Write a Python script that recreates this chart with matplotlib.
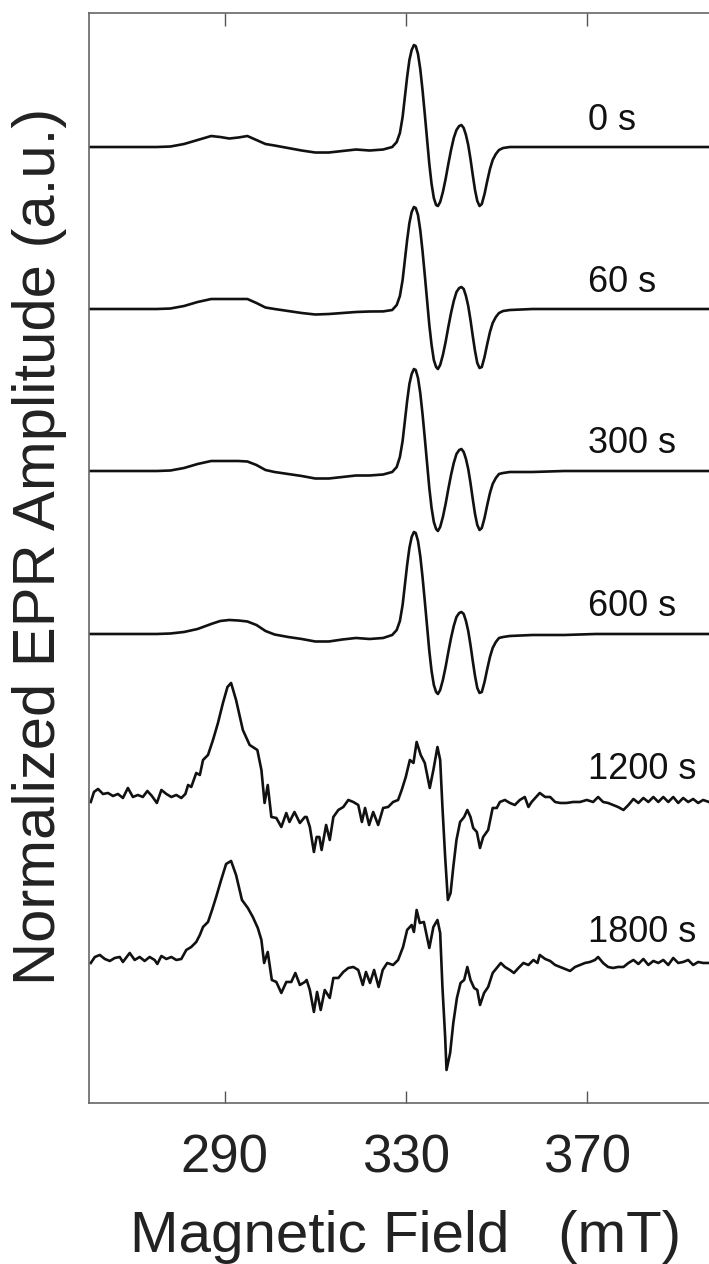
'''
Stacked EPR spectra recorded at different times
'''
import matplotlib
matplotlib.use('Agg')
import matplotlib.pyplot as plt

plt.rcParams['font.family'] = ['Liberation Sans', 'DejaVu Sans']

# labels of the spectra, top to bottom
labels = ['0 s', '60 s', '300 s', '600 s', '1200 s', '1800 s']

# magnetic field (mT) for the four smooth spectra
field_smooth = [260, 265, 270, 275, 278, 281, 284, 287, 289, 291, 293, 295, 297, 299, 301,
                304, 307, 310, 313, 316, 319, 322, 325, 327, 328,
                328.7, 329.3, 329.8, 330.3, 330.8, 331.3, 331.8, 332.2, 332.7, 333.2,
                333.7, 334.2, 334.7, 335.2, 335.7, 336.2, 336.7, 337.1, 337.6, 338.2,
                338.8, 339.4, 340.0, 340.6, 341.2, 341.8, 342.3, 342.8, 343.3, 343.8,
                344.3, 344.8, 345.3, 345.8, 346.3, 346.8, 347.4, 348.0, 348.6, 349.2,
                349.9, 350.6, 351.5,
                353, 358, 365, 372, 380, 388, 397]

amp_0 = [0, 0, 0, 0, 0.005, 0.03, 0.07, 0.11, 0.10, 0.085, 0.095, 0.11, 0.07, 0.03, 0.015,
         -0.01, -0.035, -0.055, -0.055, -0.04, -0.025, -0.035, -0.025, 0.0, 0.05,
         0.14, 0.30, 0.50, 0.70, 0.87, 0.97, 1.02, 1.01, 0.93, 0.78,
         0.57, 0.33, 0.08, -0.17, -0.37, -0.51, -0.58, -0.59, -0.55, -0.45,
         -0.32, -0.17, -0.03, 0.09, 0.17, 0.21, 0.22, 0.19, 0.12, 0.02,
         -0.12, -0.28, -0.43, -0.54, -0.59, -0.57, -0.47, -0.34, -0.22, -0.13,
         -0.07, -0.03, -0.01,
         0.0, 0.0, 0.0, 0.0, 0.0, 0.0, 0.0]

amp_60 = [0, 0, 0, 0, 0.005, 0.03, 0.07, 0.10, 0.10, 0.10, 0.10, 0.10, 0.06, 0.015, 0.0,
          -0.02, -0.04, -0.055, -0.05, -0.04, -0.03, -0.025, -0.024, -0.01, 0.04,
          0.13, 0.29, 0.49, 0.69, 0.86, 0.97, 1.02, 1.01, 0.94, 0.79,
          0.58, 0.34, 0.09, -0.16, -0.36, -0.51, -0.58, -0.60, -0.56, -0.46,
          -0.33, -0.18, -0.04, 0.08, 0.17, 0.21, 0.22, 0.20, 0.13, 0.03,
          -0.11, -0.27, -0.42, -0.54, -0.59, -0.58, -0.48, -0.35, -0.23, -0.14,
          -0.08, -0.04, -0.02,
          -0.01, 0.0, 0.0, 0.0, 0.0, 0.0, 0.0]

amp_300 = [0, 0, 0, 0, 0.005, 0.03, 0.07, 0.10, 0.10, 0.10, 0.10, 0.095, 0.06, 0.01, -0.01,
           -0.03, -0.05, -0.075, -0.075, -0.06, -0.045, -0.045, -0.035, -0.01, 0.04,
           0.14, 0.30, 0.50, 0.70, 0.87, 0.97, 1.02, 1.01, 0.93, 0.78,
           0.57, 0.33, 0.08, -0.17, -0.37, -0.51, -0.58, -0.60, -0.56, -0.46,
           -0.33, -0.18, -0.04, 0.08, 0.17, 0.21, 0.22, 0.19, 0.12, 0.02,
           -0.12, -0.28, -0.43, -0.54, -0.59, -0.57, -0.47, -0.34, -0.22, -0.13,
           -0.07, -0.03, -0.02,
           -0.01, -0.01, 0.0, 0.0, 0.0, 0.0, 0.0]

amp_600 = [0, 0, 0, 0, 0.005, 0.02, 0.05, 0.10, 0.13, 0.14, 0.135, 0.125, 0.09, 0.03, -0.005,
           -0.03, -0.05, -0.075, -0.075, -0.055, -0.04, -0.05, -0.04, -0.01, 0.04,
           0.13, 0.29, 0.49, 0.69, 0.86, 0.97, 1.02, 1.01, 0.93, 0.78,
           0.57, 0.33, 0.08, -0.17, -0.37, -0.51, -0.58, -0.60, -0.56, -0.46,
           -0.33, -0.18, -0.04, 0.08, 0.17, 0.21, 0.22, 0.20, 0.13, 0.03,
           -0.11, -0.27, -0.42, -0.54, -0.59, -0.58, -0.48, -0.35, -0.23, -0.14,
           -0.08, -0.04, -0.03,
           -0.02, -0.01, -0.01, 0.0, 0.0, 0.0, 0.0]

# noisy spectra, read point by point
field_1200 = [260.4, 261.1, 262.0, 263.1, 264.2, 265.3, 266.4, 267.5, 268.6, 269.7,
              270.8, 271.9, 272.9, 273.9, 275.0, 276.0, 277.1, 278.2, 279.3, 280.4,
              281.3, 281.9, 282.6, 283.7, 284.5, 285.2, 286.3, 287.4, 288.5, 289.6,
              290.6, 291.4, 292.5, 294.0, 295.5, 297.2, 298.1, 298.8, 299.5, 300.3,
              301.4, 302.5, 303.6, 304.3, 305.4, 306.6, 307.7,
              308.1, 308.8, 309.7, 310.3, 310.9, 311.4, 312.4, 313.2, 314.0, 315.1,
              316.2, 317.3, 318.4, 319.5, 320.3, 321.0, 321.9, 322.8, 323.9, 325.0,
              326.1, 327.2, 328.3, 329.1, 330.0, 330.9, 331.7, 332.4, 333.3, 334.2,
              335.3, 336.1, 337.0, 337.6, 338.1, 338.7, 339.3, 339.9, 340.5, 341.2,
              342.0, 342.9, 343.6, 344.3, 344.9, 345.7, 346.4, 347.1, 348.2, 349.2,
              350.1, 350.8,
              351.9, 353.0, 354.1, 355.2, 356.3, 357.1, 357.8, 358.8, 359.6, 360.8,
              361.9, 363.0, 364.1, 365.5, 367.0, 368.5, 370.0, 371.4, 372.5, 373.6,
              374.7, 375.8, 376.9, 378.1, 379.2, 380.3, 381.4, 382.5, 383.6, 384.7,
              385.8, 386.9, 388.0, 389.1, 390.2, 391.3, 392.4, 393.5, 394.6, 395.7,
              397.0]
amp_1200 = [-0.05, 0.05, 0.08, 0.03, 0.04, 0.01, 0.03, -0.01, 0.09, 0.00,
            0.02, 0.00, 0.06, 0.01, -0.06, 0.07, 0.03, 0.00, 0.02, -0.01,
            0.03, 0.12, 0.10, 0.24, 0.22, 0.37, 0.42, 0.57, 0.74, 0.94,
            1.10, 1.14, 0.97, 0.67, 0.52, 0.47, 0.27, -0.06, 0.12, -0.20,
            -0.21, -0.30, -0.16, -0.25, -0.15, -0.26, -0.20,
            -0.20, -0.30, -0.55, -0.40, -0.40, -0.53, -0.28, -0.43, -0.20, -0.13,
            -0.10, -0.03, -0.05, -0.08, -0.25, -0.11, -0.28, -0.15, -0.28, -0.11,
            -0.10, -0.05, -0.03, 0.07, 0.20, 0.37, 0.34, 0.55, 0.42, 0.34,
            0.09, 0.27, 0.50, 0.37, -0.10, -0.60, -1.03, -0.96, -0.70, -0.43,
            -0.25, -0.20, -0.13, -0.20, -0.31, -0.35, -0.51, -0.40, -0.33, -0.11,
            -0.11, -0.05,
            -0.03, -0.06, -0.08, -0.03, 0.00, -0.10, -0.05, 0.00, 0.04, 0.00,
            0.00, -0.05, -0.06, -0.06, -0.05, -0.05, -0.03, -0.05, 0.00, -0.05,
            -0.06, -0.08, -0.10, -0.13, -0.08, -0.02, -0.06, -0.01, -0.05, 0.00,
            -0.05, 0.00, -0.05, 0.00, -0.06, -0.01, -0.05, -0.02, -0.06, -0.03,
            -0.05]

field_1800 = [260.4, 261.3, 262.4, 263.5, 264.6, 265.7, 266.8, 267.5, 269.0, 270.1,
              271.2, 272.3, 273.4, 274.5, 275.1, 276.0, 277.1, 278.2, 279.3, 280.4,
              281.5, 282.6, 283.7, 284.5, 285.2, 286.3, 287.2, 288.1, 289.2, 290.3,
              291.4, 292.5, 293.8, 295.1, 296.2, 297.3, 298.1, 298.7, 299.5, 300.4,
              301.4, 302.5, 303.6, 304.7, 305.6, 306.6, 307.7,
              308.1, 308.8, 309.7, 310.4, 311.2, 312.1, 313.2, 314.0, 315.1, 316.2,
              317.3, 318.4, 319.5, 320.5, 321.2, 322.1, 323.0, 324.0, 324.9, 325.9,
              327.2, 328.3, 329.4, 330.3, 331.3, 331.8, 332.4, 333.1, 334.0, 335.2,
              336.1, 337.0, 337.6, 338.1, 338.7, 339.0, 339.8, 340.5, 341.3, 342.1,
              342.9, 343.6, 344.3, 345.1, 345.8, 346.4, 347.3, 348.2, 349.2, 350.1,
              351.0, 351.9, 353.0, 353.9, 354.9, 356.0, 357.1, 358.2, 359.1, 359.6,
              360.8, 361.9, 363.0, 364.1, 365.2, 366.3, 367.4, 368.5, 369.6, 370.7,
              371.8, 372.5, 373.6, 374.7, 375.8, 376.9, 378.1, 379.2, 380.3, 381.4,
              382.5, 383.6, 384.7, 385.8, 386.9, 388.0, 389.1, 390.2, 391.3, 392.4,
              393.5, 394.6, 395.7, 397.0]
amp_1800 = [-0.03, 0.03, 0.05, 0.01, -0.01, 0.02, 0.03, -0.02, 0.07, 0.00,
            0.03, -0.01, 0.03, 0.00, -0.04, 0.04, 0.01, 0.03, 0.00, 0.01,
            0.10, 0.13, 0.18, 0.25, 0.33, 0.38, 0.50, 0.63, 0.80, 0.96,
            0.99, 0.85, 0.60, 0.52, 0.43, 0.32, 0.20, -0.03, 0.08, -0.20,
            -0.22, -0.33, -0.22, -0.22, -0.13, -0.25, -0.22,
            -0.20, -0.30, -0.52, -0.32, -0.50, -0.30, -0.38, -0.18, -0.18, -0.12,
            -0.08, -0.07, -0.10, -0.25, -0.12, -0.23, -0.10, -0.27, -0.10, -0.03,
            -0.05, 0.00, 0.13, 0.30, 0.35, 0.28, 0.50, 0.37, 0.38, 0.12,
            0.33, 0.40, 0.27, -0.27, -0.77, -1.10, -0.93, -0.63, -0.38, -0.23,
            -0.20, -0.07, -0.20, -0.28, -0.30, -0.45, -0.33, -0.27, -0.13, -0.08,
            -0.03, -0.07, -0.10, -0.13, -0.08, -0.03, -0.05, 0.00, -0.03, 0.05,
            0.01, -0.01, -0.05, -0.07, -0.09, -0.11, -0.07, -0.05, -0.03, -0.02,
            0.00, 0.03, -0.03, -0.07, -0.08, -0.07, -0.07, -0.03, 0.00, -0.04,
            0.01, -0.05, -0.01, -0.03, 0.00, -0.05, 0.02, -0.03, -0.02, 0.00,
            -0.05, -0.02, -0.03, -0.03]

fields = [field_smooth, field_smooth, field_smooth, field_smooth, field_1200, field_1800]
amps = [amp_0, amp_60, amp_300, amp_600, amp_1200, amp_1800]

# vertical stacking of the traces
offsets = [9.56, 7.94, 6.32, 4.69, 3.06, 1.43]

fig = plt.figure(figsize = (7.09, 12.64), dpi = 100)
ax = fig.add_axes([0.1255, 0.1274, 0.8745, 0.8623])

for i in range(len(labels)):
    y = [a + offsets[i] for a in amps[i]]
    ax.plot(fields[i], y, color = '#111111', lw = 1.9)
    ax.text(370.3, offsets[i] + 0.27, labels[i], fontsize = 26,
            ha = 'left', va = 'center', color = '#111111')

ax.set_xlim(260, 397)
ax.set_ylim(0, 10.9)
ax.set_xticks([290, 330, 370])
ax.set_yticks([])
ax.tick_params(axis = 'x', direction = 'in', top = True, length = 9, width = 1,
               color = '#555555', labelsize = 38, labelcolor = '#222222', pad = 22)
for side in ['left', 'top', 'bottom']:
    ax.spines[side].set_color('#666666')
    ax.spines[side].set_linewidth(1.2)
ax.spines['right'].set_visible(False)

fig.text(406 / 709, 1 - 1252 / 1264, 'Magnetic Field   (mT)', fontsize = 42,
         ha = 'center', va = 'baseline', color = '#222222')
fig.text(40 / 709, 1 - 546 / 1264, 'Normalized EPR Amplitude (a.u.)', fontsize = 43,
         rotation = 90, ha = 'center', va = 'center', color = '#222222')

fig.savefig('out.png', dpi = 100)
plt.close()
